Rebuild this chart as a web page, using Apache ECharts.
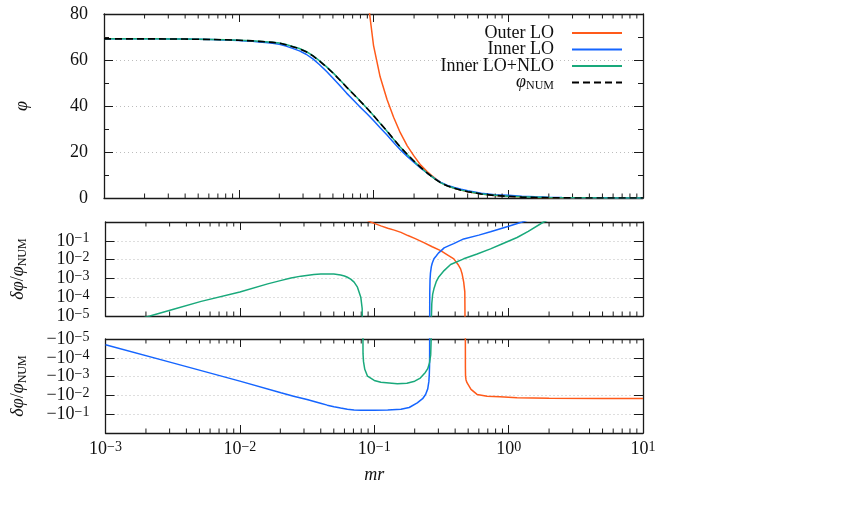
<!DOCTYPE html>
<html><head><meta charset="utf-8">
<script src="https://cdn.jsdelivr.net/npm/echarts@6/dist/echarts.min.js"></script>
<style>html,body{margin:0;padding:0;background:#fff}#c{width:858px;height:509px}</style>
</head><body><div id="c"></div><script>
// ---------- data ----------
const seriesNames = ['Outer LO', 'Inner LO', 'Inner LO+NLO', 'φNUM'];
const colors = ['#ff5a1a', '#1565ff', '#19a97b', '#000000'];

// panel 1 : phi(mr)
const mrGrid = [0.001,0.00126,0.00158,0.002,0.00251,0.00316,0.00398,0.00501,0.00631,0.00794,
  0.01,0.0112,0.0126,0.0141,0.0158,0.0178,0.02,0.0224,0.0251,0.0282,
  0.0316,0.0355,0.0398,0.0447,0.0501,0.0562,0.0631,0.0708,0.0794,0.0891,
  0.1,0.112,0.126,0.141,0.158,0.178,0.2,0.224,0.251,0.282,
  0.316,0.355,0.398,0.447,0.501,0.631,0.794,1,1.26,1.58,
  2,2.51,3.16,3.98,5.01,6.31,7.94,10];
const phiNum = [69.2,69.2,69.2,69.2,69.2,69.1,69.1,69.0,68.9,68.8,
  68.6,68.45,68.3,68.1,67.9,67.65,67.3,66.65,65.8,64.9,
  63.6,61.8,59.5,57.0,54.3,51.3,48.2,45.2,42.2,39.1,
  35.9,32.5,29.1,25.6,22.2,19.0,16.0,13.3,10.8,8.5,
  6.55,5.2,4.2,3.4,2.75,1.72,1.1,0.72,0.4,0.2,
  0.1,0.05,0.025,0.012,0.006,0.003,0.001,0.0005];
const phiInner = [69.2,69.2,69.2,69.2,69.2,69.1,69.1,69.0,68.9,68.7,
  68.5,68.3,68.1,67.85,67.6,67.25,66.8,66.05,65.05,63.95,
  62.5,60.5,57.95,55.1,52.1,48.9,45.6,42.6,39.6,36.7,
  33.7,30.5,27.35,24.1,21.0,18.1,15.5,13.0,10.75,8.6,
  6.75,5.5,4.55,3.8,3.15,2.1,1.46,1.15,0.8,0.54,
  0.35,0.22,0.14,0.09,0.06,0.04,0.03,0.02];
const phiInnerNLO = [69.2,69.2,69.2,69.2,69.2,69.1,69.1,69.0,68.9,68.8,
  68.6,68.5,68.35,68.15,67.95,67.7,67.4,66.75,65.9,65.0,
  63.7,61.9,59.6,57.1,54.4,51.4,48.3,45.3,42.25,39.1,
  35.9,32.45,29.05,25.55,22.15,18.95,15.97,13.27,10.78,8.5,
  6.57,5.23,4.23,3.43,2.78,1.76,1.16,0.81,0.5,0.35,
  0.22,0.15,0.1,0.07,0.05,0.035,0.025,0.02];
const mrOuter = [0.0794,0.0891,0.1,0.112,0.126,0.141,0.158,0.178,0.2,0.224,0.251,0.282,0.316,0.355,0.398,
  0.501,0.631,0.794,1,1.26,1.58,2,2.51,3.16,3.98,5.01,6.31,7.94,10];
const phiOuter = [140,90,66.4,52.7,42.8,35.1,28.4,22.7,18.2,14.3,11.35,8.9,6.66,5.3,4.24,
  2.74,1.7,1.085,0.71,0.395,0.197,0.099,0.049,0.025,0.012,0.006,0.003,0.001,0.0005];

// panel 2 : positive relative deviation  [mr, dphi/phi]
const posOuter = [[0.0794,1.8],[0.0942,1.0],[0.1,0.85],[0.112,0.62],[0.126,0.47],[0.141,0.37],[0.158,0.28],
  [0.178,0.19],[0.2,0.135],[0.234,0.08],[0.27,0.048],[0.312,0.030],[0.35,0.018],[0.391,0.011],[0.42,0.0055],
  [0.439,0.0032],[0.451,0.0017],[0.463,0.00063],[0.472,0.00019],[0.476,1e-7]];
const posInner = [[0.2586,1e-7],[0.2587,5e-5],[0.259,2e-4],[0.26,8e-4],[0.262,0.0019],[0.266,0.0042],
  [0.27,0.0064],[0.278,0.011],[0.29,0.016],[0.3,0.022],[0.315,0.03],[0.331,0.042],[0.36,0.055],[0.39,0.071],
  [0.463,0.126],[0.6,0.2],[0.733,0.30],[1.0,0.6],[1.26,1.0],[1.5,1.5]];
const posNLOa = [[0.00158,5.6e-6],[0.00214,1e-5],[0.00316,2.2e-5],[0.00515,6.0e-5],[0.01,1.9e-4],[0.0161,5.1e-4],
  [0.02,7.6e-4],[0.024,0.00105],[0.0285,0.00132],[0.0355,0.00162],[0.04,0.0017],[0.045,0.00174],[0.05,0.0017],
  [0.0562,0.0015],[0.06,0.00135],[0.0631,0.00115],[0.0668,0.00091],[0.0708,0.00063],
  [0.075,0.00034],[0.0794,1e-4],[0.0813,2.5e-5],[0.0819,1e-7]];
const posNLOb = [[0.2662,1e-7],[0.2665,1e-5],[0.268,4.5e-5],[0.272,1.4e-4],[0.278,2.8e-4],[0.29,7e-4],
  [0.302,0.0012],[0.331,0.0026],[0.37,0.0055],[0.463,0.011],[0.583,0.02],[0.733,0.037],[0.9,0.07],
  [1.156,0.15],[1.4,0.32],[1.82,1.0],[2.2,1.8]];

// panel 3 : negative relative deviation, stored as |dphi/phi|
const negOuter = [[0.4762,1e-7],[0.4768,3e-4],[0.478,9.5e-4],[0.482,0.0015],[0.49,0.0021],[0.525,0.0048],
  [0.582,0.0089],[0.692,0.011],[0.86,0.0117],[1.156,0.0132],[2,0.014],[5,0.0145],[10,0.0145]];
const negInner = [[0.001,2.0e-5],[0.00316,1.86e-4],[0.01,0.00174],[0.0202,0.0072],[0.0251,0.011],[0.0316,0.0166],
  [0.0398,0.026],[0.0447,0.033],[0.0501,0.04],[0.0562,0.047],[0.0631,0.054],[0.0708,0.059],[0.0794,0.062],
  [0.1,0.061],[0.126,0.06],[0.158,0.055],
  [0.182,0.044],[0.209,0.025],[0.229,0.015],[0.241,0.0089],[0.25,0.0045],[0.255,0.0018],[0.257,7e-4],
  [0.258,2.5e-4],[0.2584,5e-5],[0.2585,1e-7]];
const negNLO = [[0.0821,1e-7],[0.0825,6e-5],[0.0832,1.6e-4],[0.085,4.1e-4],[0.0891,9.5e-4],[0.1,0.0016],
  [0.112,0.002],[0.1486,0.0024],[0.175,0.00225],[0.2,0.00175],[0.22,0.0012],[0.24,6e-4],[0.25,3.8e-4],
  [0.258,1.8e-4],[0.263,7e-5],[0.2655,8e-6],[0.266,1e-7]];

// ---------- styling ----------
const FONT = '"Liberation Serif", "DejaVu Serif", serif';
const AX = '#1a1a1a';
const grids = [
  {left:104, top:14, width:539, height:184},
  {left:104, top:222, width:539, height:94},
  {left:104, top:339, width:539, height:94}
];
const richPow = {
  b: {fontFamily: FONT, fontSize: 18, lineHeight: 18, verticalAlign: 'bottom', color: '#111'},
  s: {fontFamily: FONT, fontSize: 14, lineHeight: 4, verticalAlign: 'top', color: '#111'}
};
const richName = {
  i: {fontFamily: FONT, fontSize: 18, lineHeight: 20, fontStyle: 'italic', color: '#111'},
  n: {fontFamily: FONT, fontSize: 18, lineHeight: 20, color: '#111'},
  sub: {fontFamily: FONT, fontSize: 12, lineHeight: 12, padding: [9,0,0,0], color: '#111'}
};
function expOf(v) { return Math.round(Math.log10(v)); }
function powLabel(v) {
  const k = expOf(v);
  return '{b|10}{s|' + (k < 0 ? '−' : '') + Math.abs(k) + '}';
}
function posLabel(v) { const k = expOf(v); return k === 0 ? '' : powLabel(v); }
function negLabel(v) {
  const k = expOf(v); if (k === 0) return '';
  return '{b|−10}{s|' + (k < 0 ? '−' : '') + Math.abs(k) + '}';
}
const axisLine = {show: true, onZero: false, lineStyle: {color: AX, width: 1.3}};
const split = {show: true, lineStyle: {color: '#bdbdbd', width: 1, type: [1, 3]}};

function xAx(g, pos, labels) {
  const a = {type: 'log', logBase: 10, gridIndex: g, position: pos, min: 0.001, max: 10, interval: 1,
    axisLine, axisTick: {show: true, inside: true, length: 8, lineStyle: {color: AX, width: 1}},
    axisLabel: {show: labels, margin: 7, formatter: powLabel, rich: richPow, showMinLabel: true, showMaxLabel: true,
      interval: 0, hideOverlap: false},
    splitLine: {show: false}};
  if (labels) {
    a.name = 'mr'; a.nameLocation = 'middle'; a.nameGap = 33;
    a.nameTextStyle = {fontFamily: FONT, fontStyle: 'italic', fontSize: 18, color: '#111'};
  }
  return a;
}
function yLin(pos, labels) {
  const a = {type: 'value', gridIndex: 0, position: pos, min: 0, max: 80, interval: 20,
    axisLine, axisTick: {show: true, inside: true, length: 9, lineStyle: {color: AX, width: 1}},
    minorTick: {show: true, splitNumber: 2, length: 5, lineStyle: {color: AX, width: 1}},
    axisLabel: {show: labels, margin: 16, fontFamily: FONT, fontSize: 18, color: '#111'},
    splitLine: labels ? split : {show: false}};
  if (labels) {
    a.name = '{i|φ}'; a.nameLocation = 'middle'; a.nameGap = 72; a.nameRotate = 90;
    a.nameTextStyle = {rich: richName};
  }
  return a;
}
function yLog(g, pos, labels, neg) {
  const a = {type: 'log', logBase: 10, gridIndex: g, position: pos, min: 1e-5, max: 1, interval: 1, inverse: !!neg,
    axisLine, axisTick: {show: true, inside: true, length: 9, lineStyle: {color: AX, width: 1}},
    axisLabel: {show: labels, margin: 16, formatter: neg ? negLabel : posLabel, rich: richPow,
      showMinLabel: true, showMaxLabel: true, interval: 0, hideOverlap: false},
    splitLine: labels ? split : {show: false}};
  if (labels) {
    a.name = '{i|δφ}{n|/}{i|φ}{sub|NUM}'; a.nameLocation = 'middle'; a.nameGap = 77; a.nameRotate = 90;
    a.nameTextStyle = {rich: richName};
  }
  return a;
}

// minor ticks of the log x axes (2..9 per decade), placed through the axis scale
const minorX = [];
for (let e = -3; e < 1; e++) for (let m = 2; m <= 9; m++) minorX.push(m * Math.pow(10, e));
function minorSeries(g, yRef) {
  return {type: 'custom', xAxisIndex: 2 * g, yAxisIndex: 2 * g, silent: true, clip: false, z: 5,
    data: minorX.map(x => [x, yRef]),
    renderItem: (params, api) => {
      const p = api.coord([api.value(0), api.value(1)]);
      const cs = params.coordSys; const L = 4.5;
      const st = {stroke: AX, lineWidth: 1};
      return {type: 'group', children: [
        {type: 'line', shape: {x1: p[0], y1: cs.y + cs.height, x2: p[0], y2: cs.y + cs.height - L}, style: st},
        {type: 'line', shape: {x1: p[0], y1: cs.y, x2: p[0], y2: cs.y + L}, style: st}
      ]};
    }};
}
function line(name, idx, g, data, dashed) {
  return {type: 'line', name, xAxisIndex: 2 * g, yAxisIndex: 2 * g, data, symbol: 'none', clip: true,
    lineStyle: {color: colors[idx], width: dashed ? 1.6 : 1.5, type: dashed ? [7, 4] : 'solid'},
    itemStyle: {color: colors[idx]}, z: 3 + idx};
}
const zip = (xs, ys) => xs.map((x, i) => [x, ys[i]]);

const option = {
  animation: false,
  backgroundColor: '#fff',
  grid: grids,
  legend: {
    data: seriesNames, orient: 'vertical', right: 235, top: 24, align: 'right', padding: 0,
    itemWidth: 50, itemHeight: 12, itemGap: -1.5, selectedMode: false,
    itemStyle: {opacity: 0, borderWidth: 0},
    formatter: n => n === 'φNUM' ? '{i|φ}{sub|NUM}' : '{n|' + n + '}',
    textStyle: {fontFamily: FONT, fontSize: 18, color: '#111', lineHeight: 16, padding: [0, 13, 0, 0],
      rich: {
        n: {fontFamily: FONT, fontSize: 18, lineHeight: 16, color: '#111'},
        i: {fontFamily: FONT, fontSize: 18, lineHeight: 16, fontStyle: 'italic', color: '#111'},
        sub: {fontFamily: FONT, fontSize: 12, lineHeight: 12, padding: [6, 0, 0, 0], color: '#111'}
      }}
  },
  xAxis: [xAx(0, 'bottom', false), xAx(0, 'top', false), xAx(1, 'bottom', false), xAx(1, 'top', false),
          xAx(2, 'bottom', true), xAx(2, 'top', false)],
  yAxis: [yLin('left', true), yLin('right', false), yLog(1, 'left', true, false), yLog(1, 'right', false, false),
          yLog(2, 'left', true, true), yLog(2, 'right', false, true)],
  series: [
    line(seriesNames[0], 0, 0, zip(mrOuter, phiOuter)),
    line(seriesNames[1], 1, 0, zip(mrGrid, phiInner)),
    line(seriesNames[2], 2, 0, zip(mrGrid, phiInnerNLO)),
    line(seriesNames[3], 3, 0, zip(mrGrid, phiNum), true),
    line(seriesNames[0], 0, 1, posOuter),
    line(seriesNames[1], 1, 1, posInner),
    line(seriesNames[2], 2, 1, posNLOa),
    line(seriesNames[2], 2, 1, posNLOb),
    line(seriesNames[0], 0, 2, negOuter),
    line(seriesNames[1], 1, 2, negInner),
    line(seriesNames[2], 2, 2, negNLO),
    minorSeries(0, 40), minorSeries(1, 1e-2), minorSeries(2, 1e-2)
  ]
};
const chart = echarts.init(document.getElementById('c'), null, {renderer: 'canvas'});
chart.setOption(option);
</script></body></html>
